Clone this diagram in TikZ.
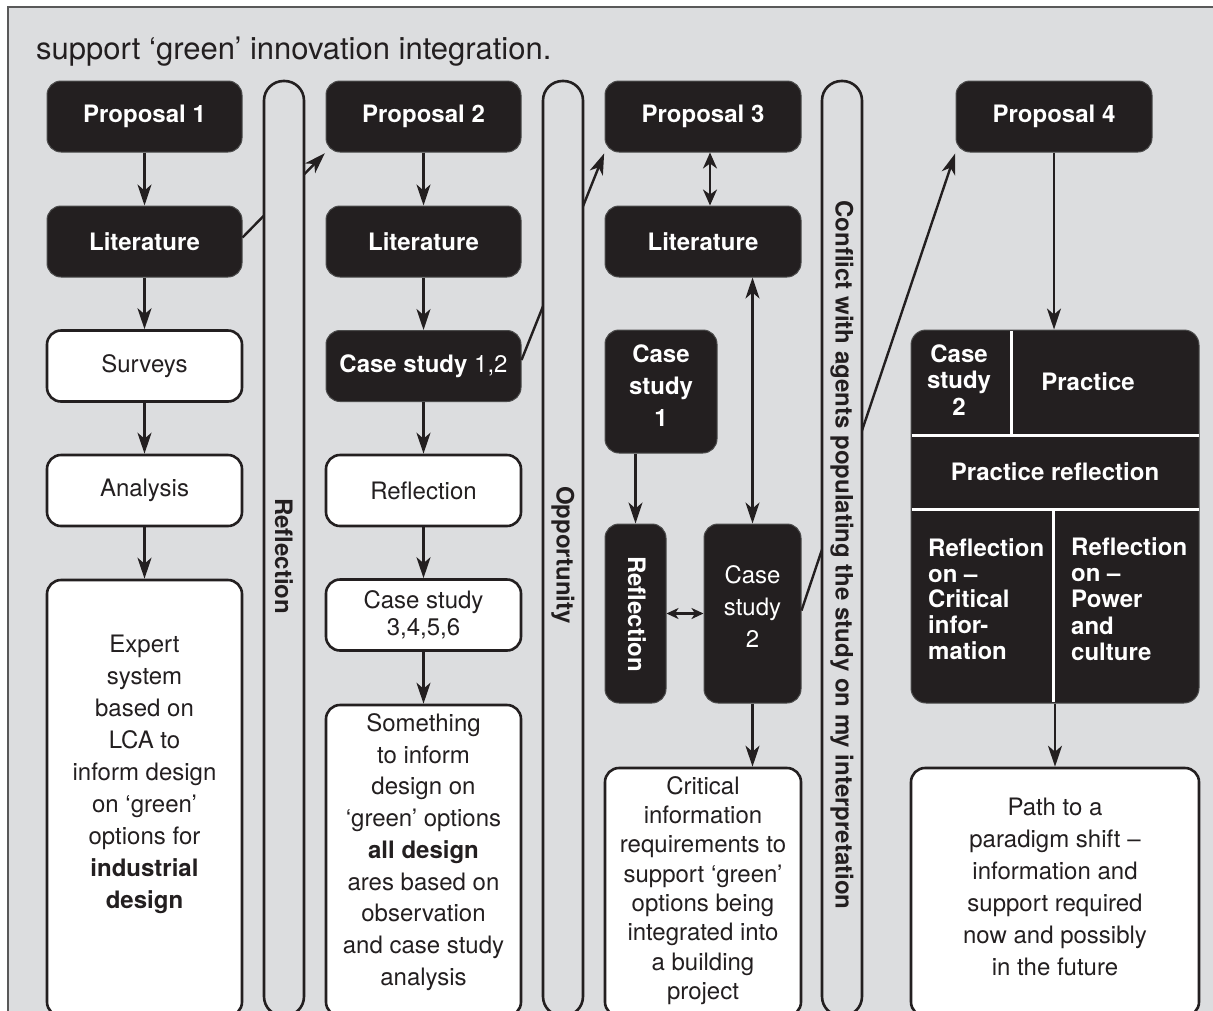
\documentclass[tikz,border=0pt]{standalone}
\usepackage{fontspec}
\setmainfont{TeX Gyre Heros}
\usetikzlibrary{arrows.meta,calc}
\definecolor{ink}{HTML}{231F20}
\definecolor{bggray}{HTML}{DCDDDF}
\newcommand\myfs[2]{\fontsize{#1}{#2}\selectfont}
\begin{document}
\begin{tikzpicture}[x=1pt,y=-1pt,
  blk/.style={draw=black!70, fill=ink, line width=1pt, rounded corners=14pt, inner sep=0pt,
              text=white, font=\myfs{24}{32}\bfseries, align=center},
  wht/.style={draw=ink, fill=white, line width=2.6pt, rounded corners=14pt, inner sep=0pt,
              text=ink, font=\myfs{24}{32}, align=center},
  colbox/.style={minimum width=195pt, minimum height=71pt},
  pill/.style={draw=ink, fill=bggray, line width=2.6pt, rounded corners=19.5pt, inner sep=0pt,
               minimum width=40pt, minimum height=935pt},
  pilltext/.style={rotate=-90, text=ink, font=\myfs{24}{28}\bfseries, inner sep=0pt},
  txt/.style={inner sep=0pt, align=center, text=ink},
  wtxt/.style={inner sep=0pt, align=center, text=white},
  divider/.style={draw=white, line width=3pt},
  arr/.style={draw=ink, line width=2.4pt, -{Stealth[length=21pt,width=14pt,inset=6pt]}},
  darr/.style={draw=ink, line width=2.4pt, {Stealth[length=21pt,width=14pt,inset=6pt]}-{Stealth[length=21pt,width=14pt,inset=6pt]}},
  darrm/.style={draw=ink, line width=2.4pt, {Stealth[length=16pt,width=14pt,inset=5pt]}-{Stealth[length=16pt,width=14pt,inset=5pt]}},
  darrs/.style={draw=ink, line width=2.2pt, {Stealth[length=12pt,width=11pt,inset=3.5pt]}-{Stealth[length=12pt,width=11pt,inset=3.5pt]}}
]
\useasboundingbox (0,0) rectangle (1213,1010);
\clip (0,0) rectangle (1213,1010);
\fill[white] (0,0) rectangle (1213,1010);
\draw[fill=bggray, draw=black!65, line width=1.5pt] (8,7) rectangle (1240,1040);

% title
\node[anchor=base west, inner sep=0pt, text=ink, font=\myfs{31}{36}] (title) at (36,59)
  {support ‘green’ innovation integration.};

% ---- column 1
\node[blk, colbox] (p1) at (144.5,116.5) {Proposal 1};
\node[blk, colbox] (lit1) at (144.5,241.5) {Literature};
\node[wht, colbox] (surv) at (144.5,366) {Surveys};
\node[wht, colbox] (anal) at (144.5,490.5) {Analysis};
\node[wht, minimum width=195pt, minimum height=436pt] (expert) at (144.5,798) {};
\node[txt, font=\myfs{24}{32}] (expertt) at (144.5,774)
  {Expert\\system\\based on\\LCA to\\inform design\\on ‘green’\\options for\\\textbf{industrial}\\\textbf{design}};

% ---- column 2
\node[blk, colbox] (p2) at (423.5,116.5) {Proposal 2};
\node[blk, colbox] (lit2) at (423.5,241.5) {Literature};
\node[blk, colbox] (cs12) at (423.5,366) {Case study \textmd{1,2}};
\node[wht, colbox] (refl2) at (423.5,490.5) {Reflection};
\node[wht, colbox, font=\myfs{24}{27}] (cs36) at (423.5,615) {Case study\\3,4,5,6};
\node[wht, minimum width=195pt, minimum height=311pt] (some) at (423.5,860.5) {};
\node[txt, font=\myfs{24}{31.7}] (somet) at (423.5,852)
  {Something\\to inform\\design on\\‘green’ options\\\textbf{all design}\\ares based on\\observation\\and case study\\analysis};

% ---- column 3
\node[blk, minimum width=196pt, minimum height=71pt] (p3) at (703,116.5) {Proposal 3};
\node[blk, minimum width=196pt, minimum height=71pt] (lit3) at (703,241.5) {Literature};
\node[blk, minimum width=112pt, minimum height=123pt] (cs1) at (661,391.5) {};
\node[wtxt, font=\myfs{24}{32}\bfseries] (cs1t) at (661,386) {Case\\study\\1};
\node[blk, minimum width=61pt, minimum height=179pt] (refl3) at (635.5,613.5) {};
\node[wtxt, rotate=-90, font=\myfs{24}{28}\bfseries] (refl3t) at (637,614) {Reflection};
\node[blk, minimum width=97pt, minimum height=179pt] (cs2) at (752.5,613.5) {};
\node[wtxt, font=\myfs{24}{32}] (cs2t) at (752.5,607) {Case\\study\\2};
\node[wht, minimum width=196pt, minimum height=248pt] (crit) at (703,892) {};
\node[txt, font=\myfs{24}{29.3}] (critt) at (703,890.5)
  {Critical\\information\\requirements to\\support ‘green’\\options being\\integrated into\\a building\\project};

% ---- column 4
\node[blk, minimum width=196pt, minimum height=71pt] (p4) at (1054,116.5) {Proposal 4};
\node[blk, rounded corners=15pt, minimum width=288pt, minimum height=373pt] (big) at (1055,516.5) {};
\draw[divider] (1011,331) -- (1011,435);
\draw[divider] (911.5,435) -- (1198.5,435);
\draw[divider] (911.5,509) -- (1198.5,509);
\draw[divider] (1053,509) -- (1053,702);
\node[wtxt, font=\myfs{24}{26.5}\bfseries] (bcs2) at (959,380) {Case\\study\\2};
\node[wtxt, font=\myfs{24}{28}\bfseries] (prac) at (1088,382) {Practice};
\node[wtxt, font=\myfs{24}{28}\bfseries] (pracr) at (1055,472) {Practice reflection};
\node[wtxt, anchor=west, align=left, font=\myfs{24}{25.8}\bfseries] (rcrit) at (928,599)
  {Reflection\\on –\\Critical\\infor-\\mation};
\node[wtxt, anchor=west, align=left, font=\myfs{24}{26.2}\bfseries] (rpow) at (1071,599)
  {Reflection\\on –\\Power\\and\\culture};
\node[wht, minimum width=288pt, minimum height=248pt] (path) at (1055,892) {};
\node[txt, font=\myfs{24}{32}] (patht) at (1055,886.5)
  {Path to a\\paradigm shift –\\information and\\support required\\now and possibly\\in the future};

% ---- diagonal connectors (behind the pills)
\draw[arr, shorten >=1pt] ([yshift=4pt]lit1.east) -- (p2.south west);
\draw[arr, shorten >=1pt] ([yshift=6pt]cs12.east) -- (p3.south west);
\draw[arr, shorten >=1pt] ([yshift=3pt]cs2.east) -- (p4.south west);

% ---- pills
\node[pill] (pill1) at (284,548.5) {};
\node[pilltext] (pill1t) at (284,556) {Reflection};
\node[pill] (pill2) at (563,548.5) {};
\node[pilltext] (pill2t) at (563,555) {Opportunity};
\node[pill] (pill3) at (842,548.5) {};
\node[pilltext] (pill3t) at (842,555) {Conflict with agents populating the study on my interpretation};

% ---- vertical connectors
\draw[arr] (p1) -- (lit1);
\draw[arr] (lit1) -- (surv);
\draw[arr] (surv) -- (anal);
\draw[arr] (anal) -- (expert);
\draw[arr] (p2) -- (lit2);
\draw[arr] (lit2) -- (cs12);
\draw[arr] (cs12) -- (refl2);
\draw[arr] (refl2) -- (cs36);
\draw[arr] (cs36) -- (some);
\draw[darrm] ([xshift=7pt]p3.south) -- ([xshift=7pt]lit3.north);
\draw[darr] (lit3.south -| cs2.north) -- (cs2.north);
\draw[arr] (cs1.south -| refl3.north) -- (refl3.north);
\draw[darrs] (refl3.east) -- (cs2.west);
\draw[arr] (cs2.south) -- (cs2.south |- crit.north);
\draw[arr] (p4.south) -- (p4.south |- big.north);
\draw[arr] (big.south) -- (path.north);
\end{tikzpicture}
\end{document}
